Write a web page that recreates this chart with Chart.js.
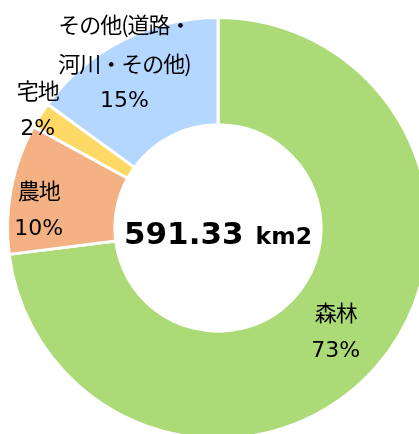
<!DOCTYPE html>
<html>
<head>
<meta charset="utf-8">
<script src="https://cdn.jsdelivr.net/npm/chart.js@4"></script>
<style>
  html, body { margin: 0; padding: 0; background: #fff; overflow: hidden; }
  #wrap { position: absolute; left: 0; top: 0; width: 436px; height: 456px; }
</style>
</head>
<body>
<div id="wrap"><canvas id="landChart" width="436" height="456"></canvas></div>
<script>
// land use breakdown (total 591.33 km2)
const categories = ["森林", "農地", "宅地", "その他(道路・\n河川・その他)"];
const shares = [73, 10, 2, 15];
const percentLabels = ["73%", "10%", "2%", "15%"];
const colors = ["#ABDA77", "#F4B183", "#FFD966", "#B4D7FF"];
const totalArea = "591.33";
const totalUnit = "km2";

// where each label block sits: fraction of outer radius along the mid angle, plus a vertical nudge
const labelPlace = [
  { r: 0.745, dy: 0 },
  { r: 0.867, dy: 16 },
  { r: 1.014, dy: -4 },
  { r: 0.98, dy: 19 },
];

const sliceLabels = {
  id: "sliceLabels",
  afterDatasetsDraw(chart) {
    const ctx = chart.ctx;
    const arcs = chart.getDatasetMeta(0).data;
    const lineH = 38.5;
    ctx.save();
    ctx.fillStyle = "#000";
    ctx.textAlign = "center";
    ctx.textBaseline = "middle";
    arcs.forEach((arc, i) => {
      const mid = (arc.startAngle + arc.endAngle) / 2;
      const r = arc.outerRadius * labelPlace[i].r;
      const cx = arc.x + Math.cos(mid) * r;
      const cy = arc.y + Math.sin(mid) * r + labelPlace[i].dy;
      const lines = categories[i].split("\n");
      const all = lines.concat([percentLabels[i]]);
      const top = cy - (all.length - 1) * lineH / 2;
      all.forEach((txt, j) => {
        if (j === all.length - 1) {
          ctx.font = '22px "DejaVu Sans", sans-serif';
          ctx.letterSpacing = "0px";
        } else {
          ctx.font = '22px "Noto Sans CJK JP", sans-serif';
          ctx.letterSpacing = "-1px";
        }
        ctx.fillText(txt, cx, top + j * lineH);
      });
    });
    ctx.letterSpacing = "0px";

    // total in the hole
    const c = arcs[0];
    ctx.textAlign = "left";
    ctx.textBaseline = "alphabetic";
    const big = 'bold 31px "DejaVu Sans", sans-serif';
    const small = 'bold 23.5px "DejaVu Sans", sans-serif';
    ctx.font = big;
    const w1 = ctx.measureText(totalArea).width;
    ctx.font = small;
    const gap = 12;
    const w2 = ctx.measureText(totalUnit).width;
    const x0 = c.x - (w1 + gap + w2) / 2;
    const base = c.y + 16;
    ctx.font = big;
    ctx.fillText(totalArea, x0, base);
    ctx.font = small;
    ctx.fillText(totalUnit, x0 + w1 + gap, base);
    ctx.restore();
  },
};

new Chart(document.getElementById("landChart"), {
  type: "doughnut",
  data: {
    labels: categories,
    datasets: [
      {
        data: shares,
        backgroundColor: colors,
        borderColor: "#fff",
        borderWidth: 3,
      },
    ],
  },
  options: {
    responsive: false,
    animation: false,
    cutout: "49%",
    layout: { padding: { left: 6, right: 6, top: 16, bottom: 16 } },
    plugins: {
      legend: { display: false },
      tooltip: { enabled: false },
    },
  },
  plugins: [sliceLabels],
});
</script>
</body>
</html>
